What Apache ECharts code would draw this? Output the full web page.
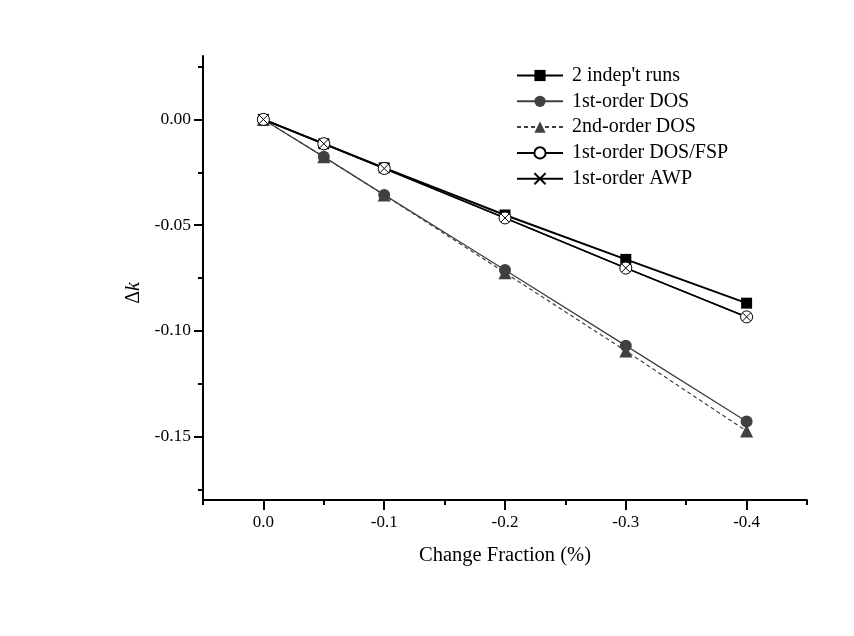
<!DOCTYPE html>
<html><head><meta charset="utf-8">
<script src="https://cdn.jsdelivr.net/npm/echarts@6/dist/echarts.min.js"></script>
<style>html,body{margin:0;padding:0;background:#fff}#c{width:854px;height:636px}</style>
</head><body><div id="c"></div>
<script>
var xValues = [0, -0.05, -0.1, -0.2, -0.3, -0.4];
var indepRuns = [0, -0.0115, -0.0229, -0.0452, -0.0662, -0.0869];
var dos1 = [0, -0.0177, -0.0357, -0.0712, -0.107, -0.1429];
var dos2 = [0, -0.0177, -0.0357, -0.0725, -0.1095, -0.1474];
var dosFsp = [0, -0.0115, -0.0232, -0.0466, -0.0703, -0.0934];
var awp = [0, -0.0115, -0.0232, -0.0466, -0.0703, -0.0934];
var xMajor = [0, -0.1, -0.2, -0.3, -0.4];
var xMinor = [0.05, -0.05, -0.15, -0.25, -0.35, -0.45];
var yMajor = [0, -0.05, -0.1, -0.15];
var yMinor = [0.025, -0.025, -0.075, -0.125, -0.175];
var names = ["2 indep't runs", "1st-order DOS", "2nd-order DOS", "1st-order DOS/FSP", "1st-order AWP"];

function pts(arr){ return xValues.map(function(x,i){ return [x, arr[i]]; }); }
var FONT = 'Liberation Serif';
function xAxisBase(extra){
  var a = {type:'value', min:-0.45, max:0.05, inverse:true, gridIndex:0, position:'bottom',
    splitLine:{show:false}, axisLine:{show:true, onZero:false, lineStyle:{color:'#000', width:2}}};
  for (var k in extra) a[k] = extra[k];
  return a;
}
function yAxisBase(extra){
  var a = {type:'value', min:-0.18, max:0.03, gridIndex:0, position:'left',
    splitLine:{show:false}, axisLine:{show:true, onZero:false, lineStyle:{color:'#000', width:2}}};
  for (var k in extra) a[k] = extra[k];
  return a;
}
var chart = echarts.init(document.getElementById('c'), null, {renderer:'canvas'});
chart.setOption({
  backgroundColor:'#fff',
  animation:false,
  grid:{left:203, right:47, top:56, bottom:136, containLabel:false},
  legend:{
    data:names, orient:'vertical', left:511, top:60.5, itemGap:5.8,
    itemWidth:46, itemHeight:14,
    textStyle:{fontFamily:FONT, fontSize:20, color:'#000', padding:[0,0,0,4]}
  },
  xAxis:[
    xAxisBase({
      name:'Change Fraction (%)', nameLocation:'middle', nameGap:45,
      nameTextStyle:{fontFamily:FONT, fontSize:20.5, color:'#000'},
      axisTick:{show:true, length:10, customValues:xMajor, lineStyle:{color:'#000', width:2}},
      axisLabel:{show:true, customValues:xMajor, margin:14, fontFamily:FONT, fontSize:17, color:'#000',
        formatter:function(v){ return v.toFixed(1); }}
    }),
    xAxisBase({
      axisLine:{show:false, onZero:false},
      axisTick:{show:true, length:5, customValues:xMinor, lineStyle:{color:'#000', width:2}},
      axisLabel:{show:false}
    })
  ],
  yAxis:[
    yAxisBase({
      name:'{d|Δ}{k|k}', nameLocation:'middle', nameGap:59, nameRotate:90,
      nameTextStyle:{padding:[0,30,0,0], rich:{d:{fontFamily:FONT, fontSize:20, color:'#000'}, k:{fontFamily:FONT, fontSize:20, fontStyle:'italic', color:'#000'}}},
      axisTick:{show:true, length:9, customValues:yMajor, lineStyle:{color:'#000', width:2}},
      axisLabel:{show:true, customValues:yMajor, margin:12, fontFamily:FONT, fontSize:17.5, color:'#000',
        formatter:function(v){ return v.toFixed(2); }}
    }),
    yAxisBase({
      axisLine:{show:false, onZero:false},
      axisTick:{show:true, length:5, customValues:yMinor, lineStyle:{color:'#000', width:2}},
      axisLabel:{show:false}
    })
  ],
  series:[
    {name:names[0], type:'line', data:pts(indepRuns), symbol:'rect', symbolSize:11,
      lineStyle:{color:'#000', width:2}, itemStyle:{color:'#000'}},
    {name:names[1], type:'line', data:pts(dos1), symbol:'circle', symbolSize:12,
      lineStyle:{color:'#404040', width:1.3}, itemStyle:{color:'#404040'}},
    {name:names[2], type:'line', data:pts(dos2), symbol:'triangle', symbolSize:13,
      lineStyle:{color:'#404040', width:1.2, type:[4,3]}, itemStyle:{color:'#404040'}},
    {name:names[3], type:'line', data:pts(dosFsp), symbol:'circle', symbolSize:12,
      lineStyle:{color:'#000', width:1.6}, itemStyle:{color:'#fff', borderColor:'#000', borderWidth:1}},
    {name:names[4], type:'line', data:pts(awp), symbol:'path://M0,0L10,10M10,0L0,10', symbolSize:8,
      lineStyle:{color:'#000', width:1.2}, itemStyle:{color:'#000', borderColor:'#000', borderWidth:1}}
  ]
});
</script></body></html>
